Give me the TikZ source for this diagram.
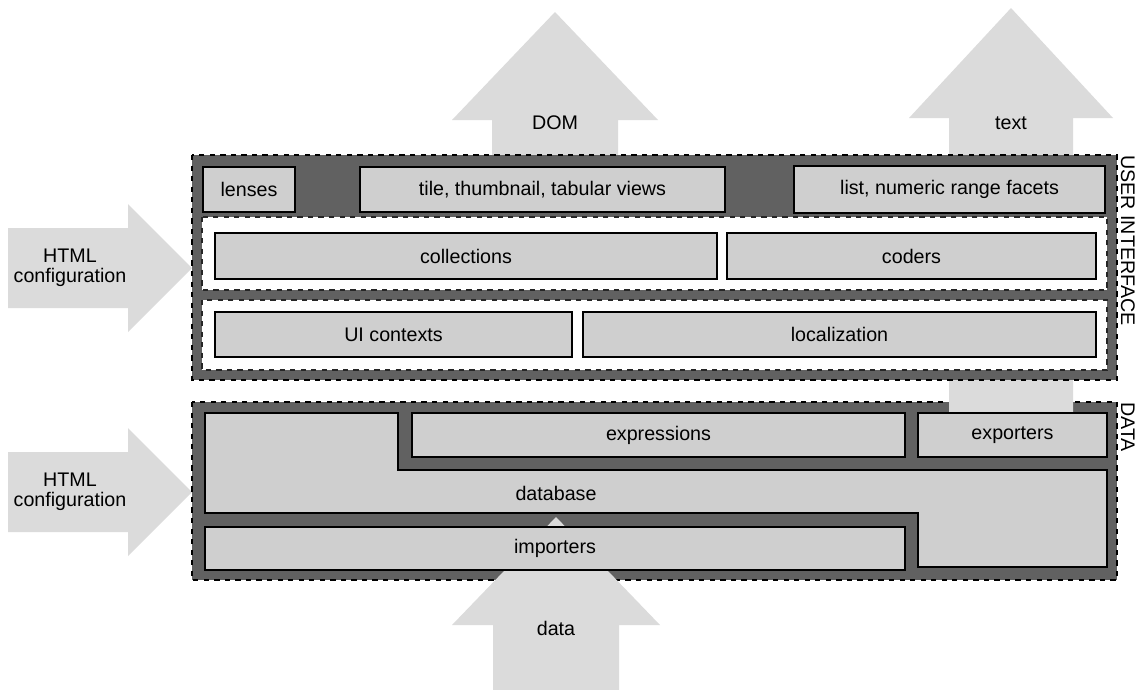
\documentclass[tikz,border=0pt]{standalone}
\usepackage{fontspec}
\setmainfont{Liberation Sans}
\usetikzlibrary{positioning}

\tikzset{
	layer/.style={fill=black!62, draw=black, dashed, line width=1.2pt},
	band/.style={fill=white, draw=black!85, dashed, line width=0.9pt},
	blk/.style={fill=black!19, draw=black, line width=0.8pt},
	bigarrow/.style={fill=black!14, draw=none},
}

\begin{document}
\begin{tikzpicture}[x=0.02cm, y=-0.02cm, every node/.style={font=\fontsize{11.2}{11.5}\selectfont, inner sep=0pt}]

		\useasboundingbox (0,0) rectangle (1140,690);

		% Flechas de fondo
		\fill[bigarrow] (492,160) -- (492,120) -- (452,120) -- (555,12) -- (658,120) -- (618,120) -- (618,160) -- cycle;
		\node[] (dom) at (555,123) {DOM};

		\fill[bigarrow] (8,228) -- (128,228) -- (128,204) -- (192,268) -- (128,332) -- (128,308) -- (8,308) -- cycle;
		\node[align=center] (html1) at (70,268) {HTML\\configuration};

		\fill[bigarrow] (8,452) -- (128,452) -- (128,428) -- (192,492) -- (128,556) -- (128,532) -- (8,532) -- cycle;
		\node[align=center] (html2) at (70,492) {HTML\\configuration};

		% Data
		\draw[layer] (192,402) rectangle (1117,580);
		\node[rotate=-90, anchor=west] (datalbl) at (1128,402) {DATA};

		\fill[bigarrow] (949,412) -- (949,118) -- (909,118) -- (1011,8) -- (1113,118) -- (1073,118) -- (1073,412) -- cycle;
		\node[] (txt) at (1011,123) {text};

		\fill[bigarrow] (493,690) -- (493,625) -- (452,625) -- (556,517) -- (660,625) -- (619,625) -- (619,690) -- cycle;
		\node[] (data) at (556,628) {data};

		\draw[blk] (205,413) -- (398,413) -- (398,470) -- (1107,470) -- (1107,567) -- (918,567) -- (918,513) -- (205,513) -- cycle;
		\node[] (database) at (556,493) {database};
		\draw[blk] (412,413) rectangle (905,457) node[midway] (expressions) {expressions};
		\draw[blk] (918,413) rectangle (1107,457) node[midway] (exporters) {exporters};
		\draw[blk] (205,527) rectangle (905,570) node[midway] (importers) {importers};

		% User interface
		\draw[layer] (192,155) rectangle (1117,380);
		\node[rotate=-90, anchor=west] (uilbl) at (1128,155) {USER INTERFACE};

		\draw[blk] (203,167) rectangle (295,212) node[midway] (lenses) {lenses};
		\draw[blk] (360,167) rectangle (725,212) node[midway] (views) {tile, thumbnail, tabular views};
		\draw[blk] (794,166) rectangle (1105,213) node[midway] (facets) {list, numeric range facets};

		\draw[band] (202,217) rectangle (1107,290);
		\draw[blk] (215,233) rectangle (717,279) node[midway] (collections) {collections};
		\draw[blk] (727,233) rectangle (1096,279) node[midway] (coders) {coders};

		\draw[band] (202,300) rectangle (1107,370);
		\draw[blk] (215,312) rectangle (572,357) node[midway] (contexts) {UI contexts};
		\draw[blk] (583,312) rectangle (1096,357) node[midway] (localization) {localization};
	\end{tikzpicture}
\end{document}
